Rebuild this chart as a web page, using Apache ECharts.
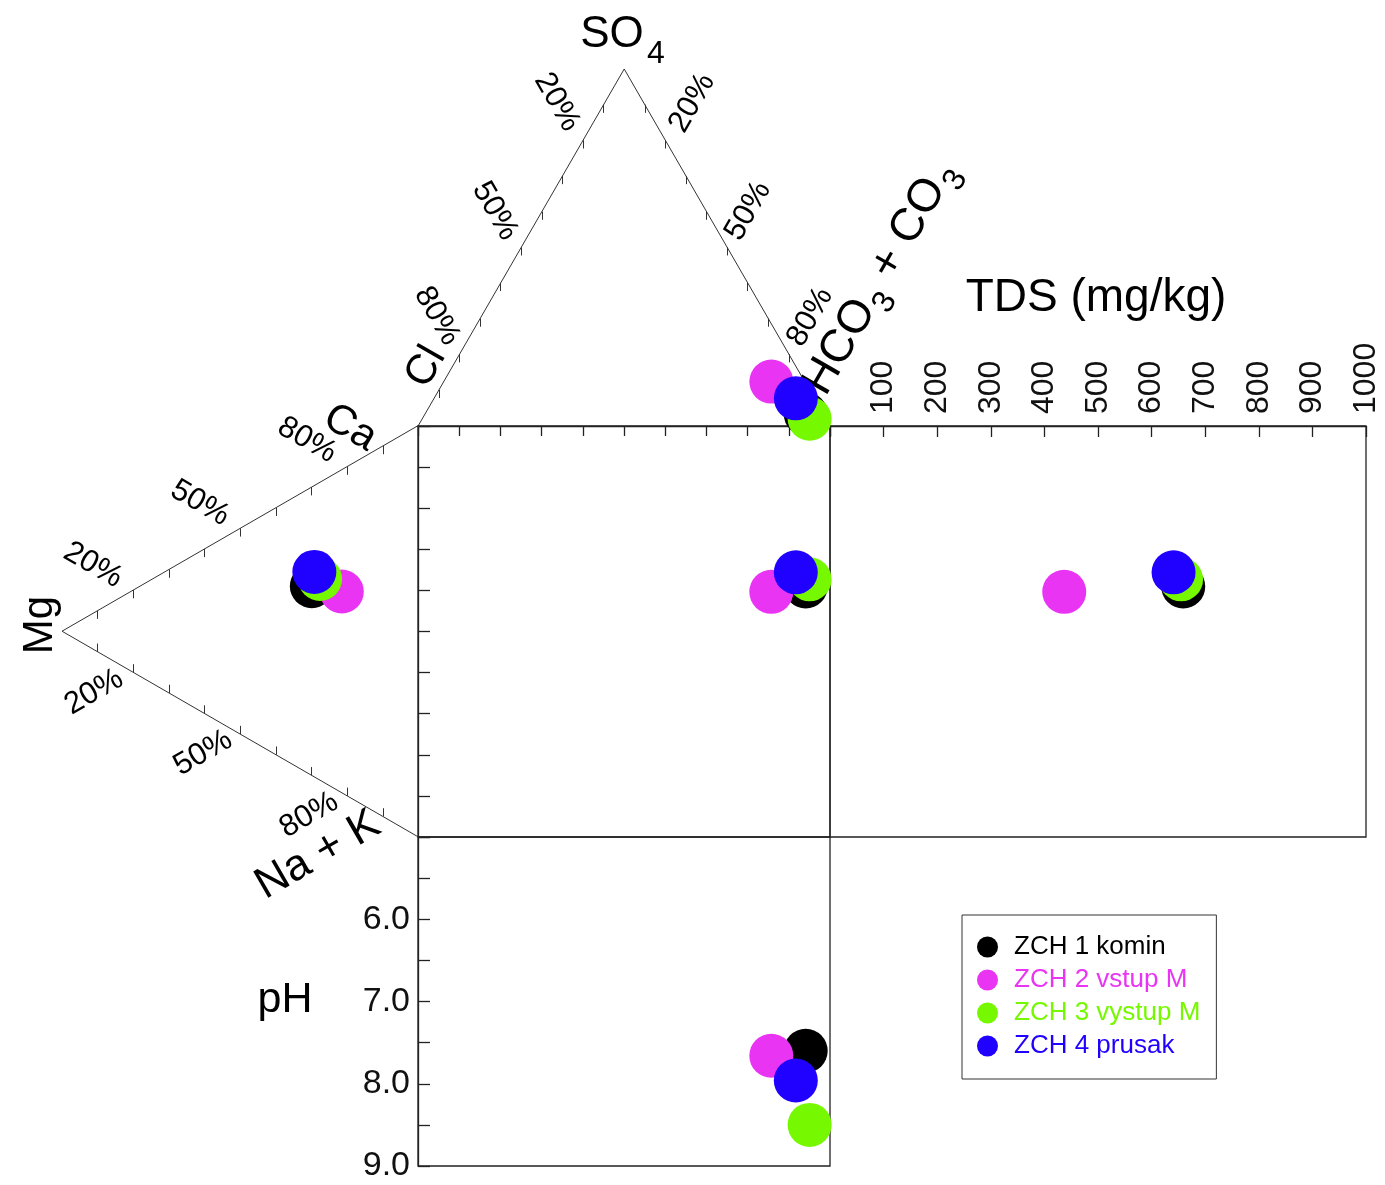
<!DOCTYPE html>
<html><head><meta charset="utf-8">
<script src="https://cdn.jsdelivr.net/npm/echarts@6/dist/echarts.min.js"></script>
<style>html,body{margin:0;padding:0;background:#fff}#c{width:1385px;height:1185px}</style>
</head><body><div id="c"></div>
<script>
// ---- data ----
const samples = ['ZCH 1 komin', 'ZCH 2 vstup M', 'ZCH 3 vystup M', 'ZCH 4 prusak'];
const colors  = ['#000000', '#EA34F3', '#76F900', '#2000FF'];
// cations (% meq)
const caPct   = [46.0, 48.9, 48.9, 49.8];
const mgPct   = [29.9, 21.5, 27.6, 29.2];
const naKPct  = [24.1, 29.6, 23.5, 21.0];
// anions (% meq)
const hco3Pct = [92.5, 79.6, 94.1, 87.9];
const so4Pct  = [3.2, 12.3, 1.9, 7.6];
const clPct   = [4.3, 8.1, 4.0, 4.5];
// TDS (mg/kg) and pH
const tdsVals = [659, 437, 655, 641];
const phVals  = [7.60, 7.66, 8.50, 7.96];
// edge percentage labels
const pctLabels = [20, 50, 80];

const FONT = 'Liberation Sans, Arial, Helvetica, sans-serif';
const H = Math.sqrt(3) / 2 * 100;

function cationXY(i) {
  const s = caPct[i] + mgPct[i] + naKPct[i];
  const mg = mgPct[i] / s * 100, ca = caPct[i] / s * 100;
  return [-H * mg / 100, ca + mg / 2];
}
function anionXY(i) {
  const s = hco3Pct[i] + so4Pct[i] + clPct[i];
  const so4 = so4Pct[i] / s * 100, hco3 = hco3Pct[i] / s * 100;
  return [hco3 + so4 / 2, 100 + H * so4 / 100];
}

// ticks on triangle edges (every 10 %), drawn vertically into each triangle
const tl = 2.0;
const tickLines = [];
for (let k = 1; k <= 9; k++) {
  const f = k / 10;
  let p;
  p = [50 * f, 100 + H * f];        tickLines.push({coords: [p, [p[0], p[1] - tl]]});
  p = [100 - 50 * f, 100 + H * f];  tickLines.push({coords: [p, [p[0], p[1] - tl]]});
  p = [-H + H * f, 50 + 50 * f];    tickLines.push({coords: [p, [p[0], p[1] - tl]]});
  p = [-H + H * f, 50 - 50 * f];    tickLines.push({coords: [p, [p[0], p[1] + tl]]});
}

const series = [
  {type: 'line', xAxisIndex: 0, yAxisIndex: 0, silent: true, symbol: 'none', z: 1,
   data: [[0, 100], [50, 100 + H], [100, 100]], lineStyle: {color: '#333', width: 1}},
  {type: 'line', xAxisIndex: 0, yAxisIndex: 0, silent: true, symbol: 'none', z: 1,
   data: [[0, 100], [-H, 50], [0, 0]], lineStyle: {color: '#333', width: 1}},
  {type: 'lines', coordinateSystem: 'cartesian2d', xAxisIndex: 0, yAxisIndex: 0, silent: true, z: 1,
   data: tickLines, lineStyle: {color: '#333', width: 1, opacity: 1}}
];

samples.forEach((name, i) => {
  const c = cationXY(i), a = anionXY(i);
  const base = {type: 'scatter', name: name, symbolSize: 44, clip: false, z: 5,
    itemStyle: {color: colors[i], opacity: 1}, emphasis: {disabled: true}};
  series.push(Object.assign({}, base, {xAxisIndex: 0, yAxisIndex: 0, data: [c, a]}));
  series.push(Object.assign({}, base, {xAxisIndex: 1, yAxisIndex: 1, data: [[a[0], c[1]]]}));
  series.push(Object.assign({}, base, {xAxisIndex: 2, yAxisIndex: 2, data: [[tdsVals[i], c[1]]]}));
  series.push(Object.assign({}, base, {xAxisIndex: 3, yAxisIndex: 3, data: [[a[0], phVals[i]]]}));
});

const lineCol = '#222';
const txt = (text, x, y, size, rotDeg) => ({
  type: 'text', x: x, y: y, rotation: (rotDeg || 0) * Math.PI / 180, silent: true,
  style: {text: text, font: size + 'px ' + FONT, fill: '#000', align: 'center', verticalAlign: 'middle'}
});

const graphics = [
  txt('SO', 612, 35, 44, 0),
  txt('4', 656, 54, 32, 0),
  txt('TDS (mg/kg)', 1096, 298, 46, 0),
  txt('pH', 285, 1000, 43, 0),
  txt('Mg', 40, 625, 42, 90),
  txt('Ca', 350, 428, 42, -30),
  txt('Cl', 426, 367, 42, 60),
  txt('Na + K', 318, 855, 44, 30),
  // anion triangle left edge (Cl %)
  txt(pctLabels[0] + '%', 557, 102, 31, -60),
  txt(pctLabels[1] + '%', 495, 211, 31, -60),
  txt(pctLabels[2] + '%', 437, 316, 31, -60),
  // anion triangle right edge (HCO3 %)
  txt(pctLabels[0] + '%', 692, 103, 31, 60),
  txt(pctLabels[1] + '%', 748, 211, 31, 60),
  txt(pctLabels[2] + '%', 810, 317, 31, 60),
  // cation triangle upper edge (Ca %)
  txt(pctLabels[0] + '%', 93, 565, 31, -30),
  txt(pctLabels[1] + '%', 200, 503, 31, -30),
  txt(pctLabels[2] + '%', 307, 440, 31, -30),
  // cation triangle lower edge (Na + K %)
  txt(pctLabels[0] + '%', 94, 692, 31, 30),
  txt(pctLabels[1] + '%', 203, 753, 31, 30),
  txt(pctLabels[2] + '%', 309, 815, 31, 30),
  {type: 'group', x: 814.5, y: 391, rotation: Math.PI / 3, silent: true, children: [
    {type: 'text', x: 0, y: 0, style: {text: 'HCO', font: '46px ' + FONT, fill: '#000', align: 'left', verticalAlign: 'middle'}},
    {type: 'text', x: 103, y: 17, style: {text: '3', font: '32px ' + FONT, fill: '#000', align: 'left', verticalAlign: 'middle'}},
    {type: 'text', x: 121, y: 0, style: {text: ' + CO', font: '46px ' + FONT, fill: '#000', align: 'left', verticalAlign: 'middle'}},
    {type: 'text', x: 244, y: 17, style: {text: '3', font: '32px ' + FONT, fill: '#000', align: 'left', verticalAlign: 'middle'}}
  ]}
];

const hiddenAxis = (gi, min, max) => ({gridIndex: gi, type: 'value', min: min, max: max, show: false,
  axisLine: {onZero: false}});

const option = {
  animation: false,
  backgroundColor: '#fff',
  textStyle: {fontFamily: FONT},
  grid: [
    {left: 62, top: 69, width: 768, height: 768, show: false},
    {left: 418, top: 426, width: 412, height: 411, show: true, borderColor: lineCol, borderWidth: 1.3, backgroundColor: 'transparent'},
    {left: 830, top: 426, width: 536, height: 411, show: true, borderColor: lineCol, borderWidth: 1.3, backgroundColor: 'transparent'},
    {left: 418, top: 837, width: 412, height: 329, show: true, borderColor: lineCol, borderWidth: 1.3, backgroundColor: 'transparent'}
  ],
  xAxis: [
    hiddenAxis(0, -H, 100),
    {gridIndex: 1, type: 'value', position: 'top', min: 0, max: 100, interval: 10,
     axisLine: {show: true, onZero: false, lineStyle: {color: lineCol, width: 1.3}},
     axisTick: {show: true, inside: true, length: 10, lineStyle: {color: lineCol, width: 1.3}},
     axisLabel: {show: false}, splitLine: {show: false}},
    {gridIndex: 2, type: 'value', position: 'top', min: 0, max: 1000, interval: 100,
     axisLine: {show: true, onZero: false, lineStyle: {color: lineCol, width: 1.3}},
     axisTick: {show: true, inside: true, length: 11, lineStyle: {color: lineCol, width: 1.3}},
     axisLabel: {show: true, rotate: -90, margin: 12, fontSize: 32, color: '#111', showMaxLabel: true,
       formatter: v => v === 0 ? '' : String(v)},
     splitLine: {show: false}},
    hiddenAxis(3, 0, 100)
  ],
  yAxis: [
    hiddenAxis(0, 0, 100 + H),
    {gridIndex: 1, type: 'value', position: 'left', min: 0, max: 100, interval: 10,
     axisLine: {show: true, onZero: false, lineStyle: {color: lineCol, width: 1.3}},
     axisTick: {show: true, inside: true, length: 12, lineStyle: {color: lineCol, width: 1.3}},
     axisLabel: {show: false}, splitLine: {show: false}},
    hiddenAxis(2, 0, 100),
    {gridIndex: 3, type: 'value', position: 'left', min: 5, max: 9, interval: 0.5, inverse: true,
     axisLine: {show: true, onZero: false, lineStyle: {color: lineCol, width: 1.3}},
     axisTick: {show: true, inside: true, length: 12, lineStyle: {color: lineCol, width: 1.3}},
     axisLabel: {show: true, margin: 8, fontSize: 34, color: '#111', showMaxLabel: true,
       formatter: v => (Math.abs(v - Math.round(v)) < 1e-6 && v > 5) ? v.toFixed(1) : ''},
     splitLine: {show: false}}
  ],
  legend: {
    orient: 'vertical', left: 962, top: 915, padding: [19, 16, 20, 15], itemGap: 7,
    itemWidth: 21, itemHeight: 21, icon: 'circle', borderColor: '#333', borderWidth: 1,
    selectedMode: false,
    textStyle: {fontSize: 26, fontFamily: FONT, padding: [0, 0, 0, 11]},
    data: samples.map((s, i) => ({name: s, textStyle: {color: colors[i]}}))
  },
  graphic: graphics,
  series: series
};

const chart = echarts.init(document.getElementById('c'), null, {renderer: 'canvas'});
chart.setOption(option);
</script>
</body></html>
